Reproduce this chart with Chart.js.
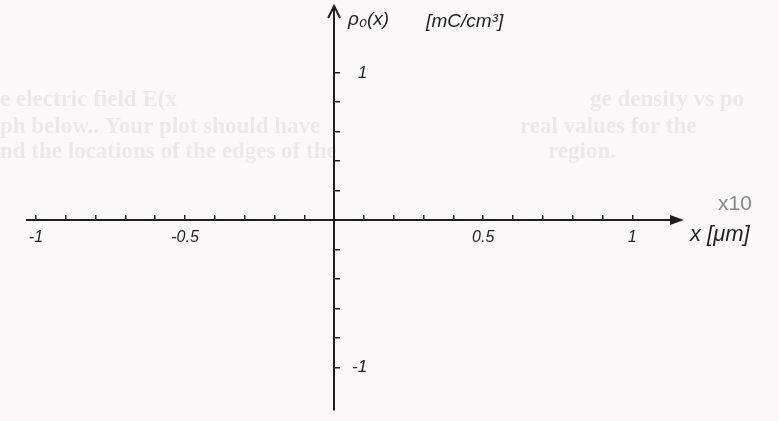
<!DOCTYPE html>
<html>
<head>
<meta charset="utf-8">
<script src="https://cdn.jsdelivr.net/npm/chart.js@4"></script>
<style>
  body { margin: 0; background: #fcf8f9; }
  canvas { display: block; }
</style>
</head>
<body>
<canvas id="sketch" width="779" height="421"></canvas>
<script>
// Ejes vacíos (hoja escaneada): sólo marcas y etiquetas
const xTicks = [-1, -0.9, -0.8, -0.7, -0.6, -0.5, -0.4, -0.3, -0.2, -0.1, 0.1, 0.2, 0.3, 0.4, 0.5, 0.6, 0.7, 0.8, 0.9, 1];
const xLabelValues = [-1, -0.5, 0.5, 1];
const xLabelTexts = ['-1', '-0.5', '0.5', '1'];
const yTicks = [-1, -0.8, -0.6, -0.4, -0.2, 0.2, 0.4, 0.6, 0.8, 1];
const yLabelValues = [-1, 1];
const yLabelTexts = ['-1', '1'];
const xTitle = 'x [\u03bcm]';
const xScaleNote = 'x10';
const yTitle = '\u03c1\u2080(x)';
const yUnits = '[mC/cm\u00b3]';

// texto impreso que se transparenta del otro lado
const ghostLines = [
  ['e electric field E(x', 0, 100], ['ge density vs po', 590, 100],
  ['ph below.. Your plot should have', 0, 127], ['real values for the', 520, 127],
  ['nd the locations of the edges of the', 0, 152], ['region.', 548, 152]
];

const ink = '#1e1e1e';

function labelFor(values, texts, v) {
  const i = values.findIndex(x => Math.abs(x - v) < 1e-9);
  return i >= 0 ? texts[i] : '';
}

const sketchPlugin = {
  id: 'sketch',
  beforeDraw(chart) {
    const ctx = chart.ctx;
    ctx.save();
    ctx.fillStyle = 'rgba(120,120,120,0.12)';
    ctx.font = 'bold 23px "Liberation Serif"';
    ctx.textBaseline = 'middle';
    ghostLines.forEach(([t, x, y]) => ctx.fillText(t, x, y));
    ctx.restore();
  },
  afterDraw(chart) {
    const ctx = chart.ctx;
    const xs = chart.scales.x, ys = chart.scales.y;
    const x0 = xs.getPixelForValue(0), y0 = ys.getPixelForValue(0);
    const ca = chart.chartArea;
    ctx.save();
    ctx.fillStyle = ink;
    ctx.strokeStyle = ink;
    ctx.lineWidth = 2;
    // flechas
    ctx.beginPath();
    ctx.moveTo(ca.right + 4, y0);
    ctx.lineTo(ca.right - 10, y0 - 5);
    ctx.lineTo(ca.right - 10, y0 + 5);
    ctx.closePath();
    ctx.fill();
    ctx.beginPath();
    ctx.moveTo(x0 - 6, ca.top + 10);
    ctx.lineTo(x0, ca.top - 2);
    ctx.lineTo(x0 + 6, ca.top + 10);
    ctx.stroke();

    // etiquetas del eje y (a la derecha del eje)
    ctx.font = 'italic 17px "Liberation Sans"';
    ctx.textBaseline = 'middle';
    ctx.textAlign = 'right';
    yLabelValues.forEach((v, i) => {
      ctx.fillText(yLabelTexts[i], x0 + 33, ys.getPixelForValue(v));
    });

    // títulos
    ctx.textAlign = 'left';
    ctx.font = 'italic 19px "Liberation Sans"';
    ctx.fillText(yTitle, x0 + 14, ca.top + 12);
    ctx.fillText(yUnits, x0 + 92, ca.top + 14);
    ctx.font = 'italic 22px "Liberation Sans"';
    ctx.fillText(xTitle, ca.right + 10, y0 + 15);
    ctx.fillStyle = '#8a8a8a';
    ctx.font = '21px "Liberation Sans"';
    ctx.fillText(xScaleNote, ca.right + 38, y0 - 16);
    ctx.restore();
  }
};

new Chart(document.getElementById('sketch'), {
  type: 'scatter',
  data: { datasets: [] },
  options: {
    responsive: false,
    animation: false,
    layout: { padding: { left: 27, right: 99, top: 8, bottom: 11 } },
    plugins: { legend: { display: false }, tooltip: { enabled: false } },
    scales: {
      x: {
        type: 'linear',
        min: -1.03,
        max: 1.16,
        position: { y: 0 },
        afterBuildTicks: s => { s.ticks = xTicks.map(v => ({ value: v })); },
        grid: { drawOnChartArea: false, drawTicks: true, tickLength: -6, color: ink, lineWidth: 1.5 },
        border: { color: ink, width: 2 },
        ticks: {
          autoSkip: false,
          maxRotation: 0,
          padding: 14,
          color: ink,
          font: { family: 'Liberation Sans', size: 16, style: 'italic' },
          callback: v => labelFor(xLabelValues, xLabelTexts, v)
        }
      },
      y: {
        type: 'linear',
        min: -1.29,
        max: 1.44,
        position: { x: 0 },
        afterBuildTicks: s => { s.ticks = yTicks.map(v => ({ value: v })); },
        grid: { drawOnChartArea: false, drawTicks: true, tickLength: -7, color: ink, lineWidth: 1.5 },
        border: { color: ink, width: 2 },
        ticks: { display: false }
      }
    }
  },
  plugins: [sketchPlugin]
});
</script>
</body>
</html>
